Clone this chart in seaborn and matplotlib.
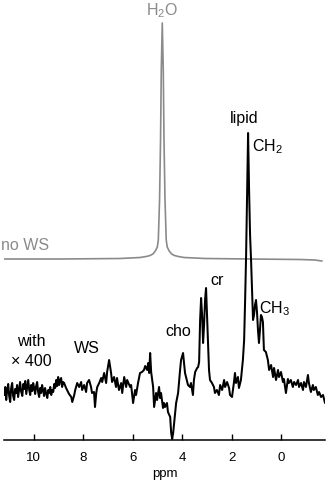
import numpy as np
import pandas as pd
import matplotlib
matplotlib.use("Agg")
import matplotlib.pyplot as plt
import seaborn as sns

# ---------------- data ----------------
# water-unsuppressed spectrum ("no WS"), gray trace
nows_ppm = [11.27, 8.93, 6.50, 5.70, 5.45, 5.29, 5.18, 5.08, 5.00, 4.96, 4.91, 4.87, 4.84, 4.80,
            4.76, 4.73, 4.69, 4.64, 4.60, 4.52, 4.42, 4.31, 4.15, 3.92, 3.07, 1.25, -0.77, -1.37, -1.66]
nows_int = [181, 181, 181.5, 182.5, 183.5, 184.5, 186, 189, 193, 200, 240, 300, 370, 417,
            370, 300, 240, 200, 193, 189, 186, 184.5, 183.5, 182.5, 181.5, 181, 180.5, 180, 179]

# water-suppressed spectrum ("with WS", x400), black trace
ws_ppm = [
    11.19, 11.15, 11.11, 11.07, 11.03, 10.99, 10.95, 10.91, 10.87, 10.83,
    10.79, 10.75, 10.71, 10.67, 10.63, 10.59, 10.55, 10.51, 10.46, 10.42,
    10.38, 10.34, 10.30, 10.26, 10.22, 10.18, 10.14, 10.10, 10.06, 10.02,
    9.98, 9.94, 9.90, 9.86, 9.82, 9.78, 9.74, 9.70, 9.66, 9.62,
    9.58, 9.54, 9.49, 9.45, 9.41, 9.37, 9.33, 9.29, 9.25, 9.21,
    9.17, 9.13, 9.09, 9.05, 9.01, 8.97, 8.93, 8.89, 8.85, 8.81,
    8.77, 8.69, 8.65, 8.57, 8.48, 8.44, 8.36, 8.32, 8.24, 8.16,
    8.08, 8.04, 7.96, 7.88, 7.84, 7.76, 7.68, 7.64, 7.56, 7.52,
    7.47, 7.43, 7.35, 7.27, 7.23, 7.15, 7.07, 7.03, 6.95, 6.87,
    6.83, 6.75, 6.67, 6.63, 6.55, 6.46, 6.42, 6.34, 6.26, 6.22,
    6.10, 6.06, 5.98, 5.90, 5.86, 5.78, 5.70, 5.62, 5.54, 5.49,
    5.41, 5.37, 5.33, 5.29, 5.25, 5.17, 5.13, 5.05, 5.01, 4.93,
    4.89, 4.85, 4.77, 4.73, 4.69, 4.61, 4.57, 4.48, 4.44, 4.40,
    4.36, 4.28, 4.24, 4.16, 4.08, 4.04, 3.96, 3.88, 3.84, 3.76,
    3.68, 3.64, 3.56,
    3.52, 3.47, 3.39, 3.35, 3.31, 3.27, 3.23, 3.19, 3.15, 3.11,
    3.07, 3.03, 2.99, 2.95, 2.91, 2.87, 2.79, 2.71, 2.67, 2.59,
    2.51, 2.46, 2.38, 2.30, 2.26, 2.18, 2.10, 2.06, 1.98, 1.90,
    1.86, 1.82, 1.74, 1.70, 1.62, 1.54, 1.49, 1.45, 1.41, 1.37,
    1.33, 1.29, 1.25, 1.21, 1.17, 1.13, 1.09, 1.05, 1.01, 0.97,
    0.93, 0.89, 0.85, 0.81, 0.77, 0.73, 0.69, 0.61, 0.53, 0.48,
    0.40, 0.32, 0.28, 0.20, 0.12, 0.08, 0.00, -0.08, -0.12, -0.20,
    -0.28, -0.32, -0.40, -0.48, -0.53, -0.61, -0.69, -0.73, -0.81, -0.89,
    -0.93, -1.01, -1.09, -1.13, -1.21, -1.29, -1.33, -1.41, -1.49, -1.54,
    -1.62, -1.70, -1.78]
ws_int = [
    45, 53, 40, 50, 56, 44, 38, 52, 57, 44,
    40, 51, 47, 55, 43, 50, 58, 49, 44, 56,
    51, 59, 46, 53, 60, 50, 45, 55, 49, 57,
    52, 46, 54, 58, 48, 43, 52, 47, 55, 50,
    44, 52, 46, 42, 50, 47, 53, 45, 50, 48,
    56, 52, 60, 54, 63, 55, 60, 62, 53, 58,
    57, 52, 50, 46, 43, 38, 45, 50, 57, 53,
    58, 50, 55, 48, 57, 60, 53, 47, 48, 33,
    47, 53, 57, 62, 58, 67, 57, 68, 80, 67,
    58, 63, 53, 62, 50, 57, 47, 63, 53, 60,
    53, 55, 37, 50, 45, 57, 67, 68, 70, 74,
    70, 77, 67, 87, 68, 53, 33, 47, 40, 53,
    42, 47, 32, 37, 33, 37, 28, 23, 7, 1,
    7, 27, 37, 47, 70, 80, 87, 67, 63, 55,
    53, 57, 45,
    60, 68, 72, 73, 78, 120, 142, 125, 97, 115,
    140, 152, 125, 95, 70, 60, 57, 53, 47, 50,
    45, 55, 50, 60, 53, 58, 52, 45, 43, 58,
    67, 57, 63, 52, 60, 80, 100, 140, 185, 245,
    307, 250, 205, 180, 150, 120, 125, 135, 140, 128,
    110, 97, 110, 125, 123, 118, 90, 88, 80, 70,
    75, 63, 72, 60, 70, 63, 68, 58, 61, 47,
    61, 57, 60, 53, 58, 55, 60, 53, 57, 50,
    58, 53, 65, 57, 48, 55, 50, 53, 45, 48,
    43, 45, 37]

tick_vals = [10, 8, 6, 4, 2, 0]
tick_labels = ["10", "8", "6", "4", "2", "0"]

# annotations: (text, ppm, intensity, ha, color)
labels_text = [r"H$_\mathregular{2}$O", "no WS", "lipid", r"CH$_\mathregular{2}$", "cr",
               r"CH$_\mathregular{3}$", "cho", "with", "\u00d7 400", "WS"]
labels_ppm = [4.80, 11.33, 1.49, 1.17, 2.87, 0.87, 4.66, 10.09, 10.09, 7.84]
labels_int = [425, 190, 317, 289, 155, 127, 104, 94, 74.5, 87]
labels_ha = ["center", "left", "center", "left", "left", "left", "left", "center", "center", "center"]
labels_gray = [True, True, False, False, False, False, False, False, False, False]

# ---------------- styling ----------------
sns.set_theme(style="white")
plt.rcParams['font.family'] = ['Liberation Sans', 'DejaVu Sans']
plt.rcParams['mathtext.fontset'] = 'custom'
plt.rcParams['mathtext.rm'] = 'Liberation Sans'

GRAY = "#8a8a8a"

fig = plt.figure(figsize=(3.28, 4.8), dpi=100)
ax = fig.add_axes([4 / 328, 40 / 480, 321 / 328, 440 / 480])
ax.patch.set_alpha(0)

nows_df = pd.DataFrame({"ppm": nows_ppm, "intensity": nows_int})
ws_df = pd.DataFrame({"ppm": ws_ppm, "intensity": ws_int})

sns.lineplot(data=nows_df, x="ppm", y="intensity", color=GRAY, linewidth=1.2,
             estimator=None, sort=False, ax=ax)
sns.lineplot(data=ws_df, x="ppm", y="intensity", color="black", linewidth=1.45,
             estimator=None, sort=False, ax=ax)

ax.set_xlim(11.2, -1.78)
ax.set_ylim(0, 440)
for s in ["top", "left", "right"]:
    ax.spines[s].set_visible(False)
ax.spines["bottom"].set_color("black")
ax.spines["bottom"].set_linewidth(1.1)
ax.set_yticks([])
ax.set_xticks(tick_vals)
ax.set_xticklabels(tick_labels)
ax.tick_params(axis="x", bottom=True, direction="in", length=4.5, width=1.0,
               color="black", pad=8.5, labelsize=9.5, labelcolor="black")
ax.set_ylabel("")
ax.set_xlabel("ppm", fontsize=9.5, labelpad=3, color="black")

for t, x, y, ha, g in zip(labels_text, labels_ppm, labels_int, labels_ha, labels_gray):
    ax.text(x, y, t, ha=ha, va="baseline", fontsize=11.5,
            color=GRAY if g else "black", clip_on=False)

fig.savefig("out.png", dpi=100)
